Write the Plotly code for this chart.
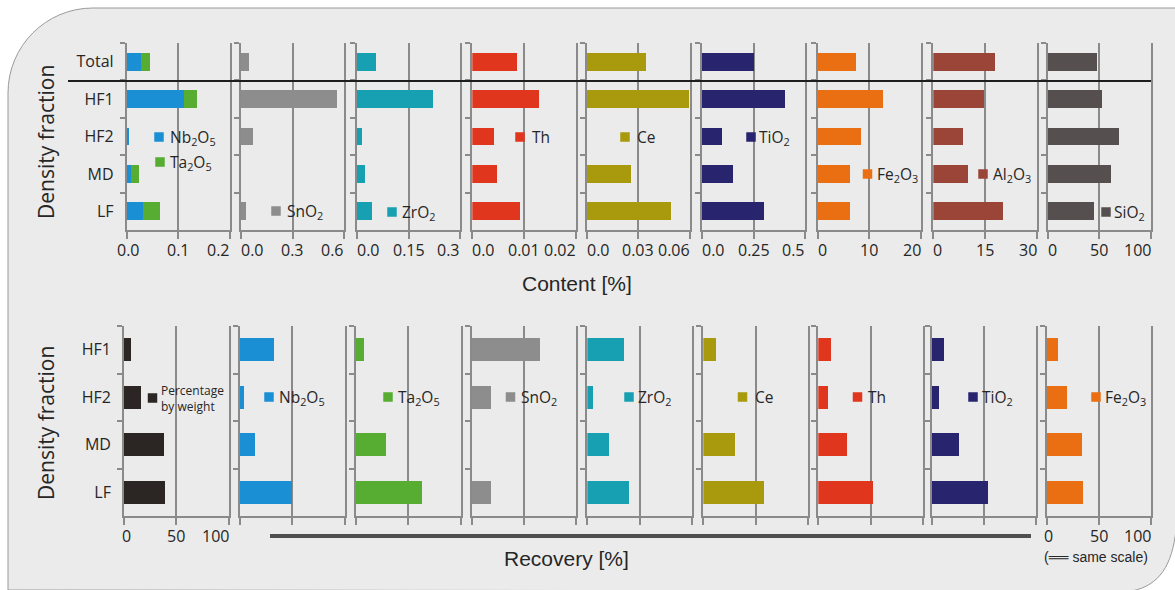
import plotly.graph_objects as go

W, H = 1175, 590

# ---------------- data ----------------
top_categories = ["Total", "HF1", "HF2", "MD", "LF"]
bottom_categories = ["HF1", "HF2", "MD", "LF"]

# Content [%] (Total, HF1, HF2, MD, LF)
nb2o5_content = [0.028, 0.110, 0.005, 0.008, 0.031]
ta2o5_content = [0.017, 0.027, 0.0, 0.016, 0.034]
sno2_content = [0.048, 0.56, 0.068, 0.0, 0.029]
zro2_content = [0.054, 0.221, 0.0135, 0.023, 0.043]
th_content = [0.0086, 0.013, 0.0042, 0.0047, 0.0092]
ce_content = [0.0344, 0.0596, 0.0, 0.026, 0.049]
tio2_content = [0.25, 0.40, 0.099, 0.15, 0.30]
fe2o3_content = [7.4, 12.6, 8.3, 6.3, 6.3]
al2o3_content = [17.9, 14.6, 8.5, 10.2, 20.2]
sio2_content = [47.8, 52.7, 69.0, 60.8, 44.6]

# Recovery [%] (HF1, HF2, MD, LF)
weight_pct = [7, 16, 38, 39]
nb2o5_recovery = [33, 4, 14, 50]
ta2o5_recovery = [8, 0, 29, 63]
sno2_recovery = [65, 18, 0, 18]
zro2_recovery = [35, 5, 21, 40]
ce_recovery = [12, 0, 30, 58]
th_recovery = [12, 9, 27, 52]
tio2_recovery = [12, 7, 26, 54]
fe2o3_recovery = [11, 19, 34, 35]

# axis scales of the content panels
content_max = [0.2, 0.6, 0.3, 0.02, 0.06, 0.5, 20, 30, 100]
content_ticktext = [
    ["0.0", "0.1", "0.2"], ["0.0", "0.3", "0.6"], ["0.0", "0.15", "0.3"],
    ["0.0", "0.01", "0.02"], ["0.0", "0.03", "0.06"], ["0.0", "0.25", "0.5"],
    ["0", "10", "20"], ["0", "15", "30"], ["0", "50", "100"],
]
recovery_max = 100
recovery_ticktext = ["0", "50", "100"]

# ---------------- styling ----------------
C = {
    "Nb2O5": "#1a8fd3", "Ta2O5": "#57ad32", "SnO2": "#8d8d8d", "ZrO2": "#17a0b1",
    "Th": "#e0361d", "Ce": "#a89a0c", "TiO2": "#28256e", "Fe2O3": "#e96f12",
    "Al2O3": "#9a4538", "SiO2": "#55504f", "weight": "#2b2624",
}
LABEL = {
    "Nb2O5": "Nb<sub>2</sub>O<sub>5</sub>", "Ta2O5": "Ta<sub>2</sub>O<sub>5</sub>",
    "SnO2": "SnO<sub>2</sub>", "ZrO2": "ZrO<sub>2</sub>", "Th": "Th", "Ce": "Ce",
    "TiO2": "TiO<sub>2</sub>", "Fe2O3": "Fe<sub>2</sub>O<sub>3</sub>",
    "Al2O3": "Al<sub>2</sub>O<sub>3</sub>", "SiO2": "SiO<sub>2</sub>",
}
AXIS_GREY = "#8a8a8a"
TXT = "#262626"
FONT = "Open Sans"


def px(x):
    return x / W


def py(y):
    return 1 - y / H


top_panels = [
    [("Nb2O5", nb2o5_content), ("Ta2O5", ta2o5_content)],
    [("SnO2", sno2_content)],
    [("ZrO2", zro2_content)],
    [("Th", th_content)],
    [("Ce", ce_content)],
    [("TiO2", tio2_content)],
    [("Fe2O3", fe2o3_content)],
    [("Al2O3", al2o3_content)],
    [("SiO2", sio2_content)],
]
bottom_panels = [
    ("weight", weight_pct), ("Nb2O5", nb2o5_recovery), ("Ta2O5", ta2o5_recovery),
    ("SnO2", sno2_recovery), ("ZrO2", zro2_recovery), ("Ce", ce_recovery),
    ("Th", th_recovery), ("TiO2", tio2_recovery), ("Fe2O3", fe2o3_recovery),
]

top_x0 = [126.7, 241, 357, 472.3, 586.7, 702, 817.7, 933.3, 1047.7]
top_w = 103.3
bot_x0 = [124, 240, 356, 471.7, 587.3, 703.3, 818.3, 931.7, 1046.7]
bot_w = 104.5
top_y = (43, 230)
bot_y = (326, 516)

fig = go.Figure()
layout = {}
annotations = []
shapes = []


def add_axes(n, x0, w, ytop, ybot, vmax, cats, show_y):
    sx = "" if n == 1 else str(n)
    layout["xaxis" + sx] = dict(
        domain=[px(x0), px(x0 + w)], anchor="y" + sx, range=[0, vmax],
        tickvals=[0, vmax / 2, vmax], showticklabels=False, automargin=False,
        ticks="outside", ticklen=7, tickwidth=1.8, tickcolor=AXIS_GREY,
        showgrid=True, gridcolor=AXIS_GREY, gridwidth=1.8, zeroline=False,
        showline=True, linecolor=AXIS_GREY, linewidth=1.8, fixedrange=True,
    )
    layout["yaxis" + sx] = dict(
        domain=[py(ybot), py(ytop)], anchor="x" + sx, type="category",
        categoryorder="array", categoryarray=cats, range=[len(cats) - 0.5, -0.5],
        tickson="boundaries", ticks="outside", ticklen=5, tickwidth=1.8,
        tickcolor=AXIS_GREY, showticklabels=show_y, showgrid=False,
        showline=True, mirror=True, linecolor=AXIS_GREY, linewidth=1.8,
        ticklabelstandoff=8, automargin=False,
        tickfont=dict(family=FONT, size=16, color=TXT), fixedrange=True,
    )
    return "x" + sx, "y" + sx


def tick_labels(xa, vmax, texts, ylab, first_centered):
    # value labels under the axis: the end labels are kept inside the panel
    vals = [0, vmax / 2, vmax]
    anchors = ["center" if first_centered else "left", "center", "right"]
    shifts = [2 if first_centered else -2, 0, 2]
    for v, t, a, s in zip(vals, texts, anchors, shifts):
        annotations.append(dict(xref=xa, yref="paper", x=v, y=py(ylab),
                                xanchor=a, yanchor="middle", xshift=s,
                                showarrow=False, text=t,
                                font=dict(family=FONT, size=16, color=TXT)))


# content panels
for i, traces in enumerate(top_panels):
    xa, ya = add_axes(i + 1, top_x0[i], top_w, *top_y, content_max[i],
                      top_categories, i == 0)
    for key, vals in traces:
        fig.add_trace(go.Bar(x=vals, y=top_categories, orientation="h",
                             marker=dict(color=C[key], line_width=0),
                             xaxis=xa, yaxis=ya, showlegend=False, name=key))
    tick_labels(xa, content_max[i], content_ticktext[i], 250, i == 0)

# recovery panels
for i, (key, vals) in enumerate(bottom_panels):
    xa, ya = add_axes(i + 10, bot_x0[i], bot_w, *bot_y, recovery_max,
                      bottom_categories, i == 0)
    fig.add_trace(go.Bar(x=vals, y=bottom_categories, orientation="h",
                         marker=dict(color=C[key], line_width=0),
                         xaxis=xa, yaxis=ya, showlegend=False, name=key))
    if i in (0, 8):
        tick_labels(xa, recovery_max, recovery_ticktext, 536, True)

# framed light-grey card with rounded corners
card = (
    f"M {px(8)},{py(590)} L {px(8)},{py(93)} "
    f"C {px(8)},{py(46)} {px(46)},{py(8)} {px(93)},{py(8)} "
    f"L {px(1176)},{py(8)} L {px(1176)},{py(530)} "
    f"C {px(1172)},{py(565)} {px(1160)},{py(585)} {px(1132)},{py(591)} Z"
)
shapes.append(dict(type="path", path=card, xref="paper", yref="paper",
                   fillcolor="#ebebeb", line=dict(color="#9a9a9a", width=1),
                   layer="below"))

# separator between the total and the fractions
shapes.append(dict(type="line", xref="paper", yref="paper",
                   x0=px(68), x1=px(1151), y0=py(81), y1=py(81),
                   line=dict(color="#1e1e1e", width=2)))
# "same scale" bar under the recovery panels
shapes.append(dict(type="line", xref="paper", yref="paper",
                   x0=px(270), x1=px(1031), y0=py(536), y1=py(536),
                   line=dict(color="#4f4f4f", width=4)))


def legend_item(key, mx, my, tx, size=9.5, text=None, fsize=15.5):
    s = size / 2
    shapes.append(dict(type="rect", xref="paper", yref="paper",
                       x0=px(mx - s), x1=px(mx + s), y0=py(my + s), y1=py(my - s),
                       fillcolor=C[key], line_width=0))
    annotations.append(dict(xref="paper", yref="paper", x=px(tx), y=py(my),
                            xanchor="left", yanchor="middle", align="left",
                            showarrow=False,
                            text=text if text is not None else LABEL[key],
                            font=dict(family=FONT, size=fsize, color=TXT)))


# legends of the content panels
legend_item("Nb2O5", 159, 137, 168)
legend_item("Ta2O5", 160, 162, 168)
legend_item("SnO2", 276, 211, 285)
legend_item("ZrO2", 392, 212, 400)
legend_item("Th", 520, 137, 530)
legend_item("Ce", 625, 137, 635)
legend_item("TiO2", 751, 137, 757)
legend_item("Fe2O3", 867.5, 174, 875)
legend_item("Al2O3", 983, 174, 991)
legend_item("SiO2", 1106, 212, 1112)

# legends of the recovery panels
legend_item("weight", 152.5, 398, 159, size=9.5,
            text="Percentage<br>by weight", fsize=12)
legend_item("Nb2O5", 269, 397, 277)
legend_item("Ta2O5", 388, 397, 396)
legend_item("SnO2", 510.5, 397, 519)
legend_item("ZrO2", 629, 397, 636)
legend_item("Ce", 742.5, 397, 753)
legend_item("Th", 857.5, 397, 866)
legend_item("TiO2", 973, 397, 980)
legend_item("Fe2O3", 1096, 397, 1103)

# axis titles
annotations += [
    dict(xref="paper", yref="paper", x=px(577), y=py(283), xanchor="center",
         yanchor="middle", showarrow=False, text="Content [%]",
         font=dict(family="Liberation Sans", size=21, color=TXT)),
    dict(xref="paper", yref="paper", x=px(566), y=py(558), xanchor="center",
         yanchor="middle", showarrow=False, text="Recovery [%]",
         font=dict(family="Liberation Sans", size=21, color=TXT)),
    dict(xref="paper", yref="paper", x=px(46), y=py(142), xanchor="center",
         yanchor="middle", showarrow=False, textangle=-90, text="Density fraction",
         font=dict(family=FONT, size=21, color=TXT)),
    dict(xref="paper", yref="paper", x=px(46), y=py(423), xanchor="center",
         yanchor="middle", showarrow=False, textangle=-90, text="Density fraction",
         font=dict(family=FONT, size=21, color=TXT)),
    dict(xref="paper", yref="paper", x=px(1096), y=py(557), xanchor="center",
         yanchor="middle", showarrow=False, text="(══ same scale)",
         font=dict(family="Liberation Sans", size=14, color=TXT)),
]

fig.update_layout(
    **layout,
    width=W, height=H, margin=dict(l=0, r=0, t=0, b=0, autoexpand=False),
    paper_bgcolor="white", plot_bgcolor="rgba(0,0,0,0)",
    barmode="stack", bargap=0.52, showlegend=False,
    shapes=shapes, annotations=annotations,
)

fig.write_html("out.html", config={"displayModeBar": False},
               post_script="document.body.style.margin='0';")
